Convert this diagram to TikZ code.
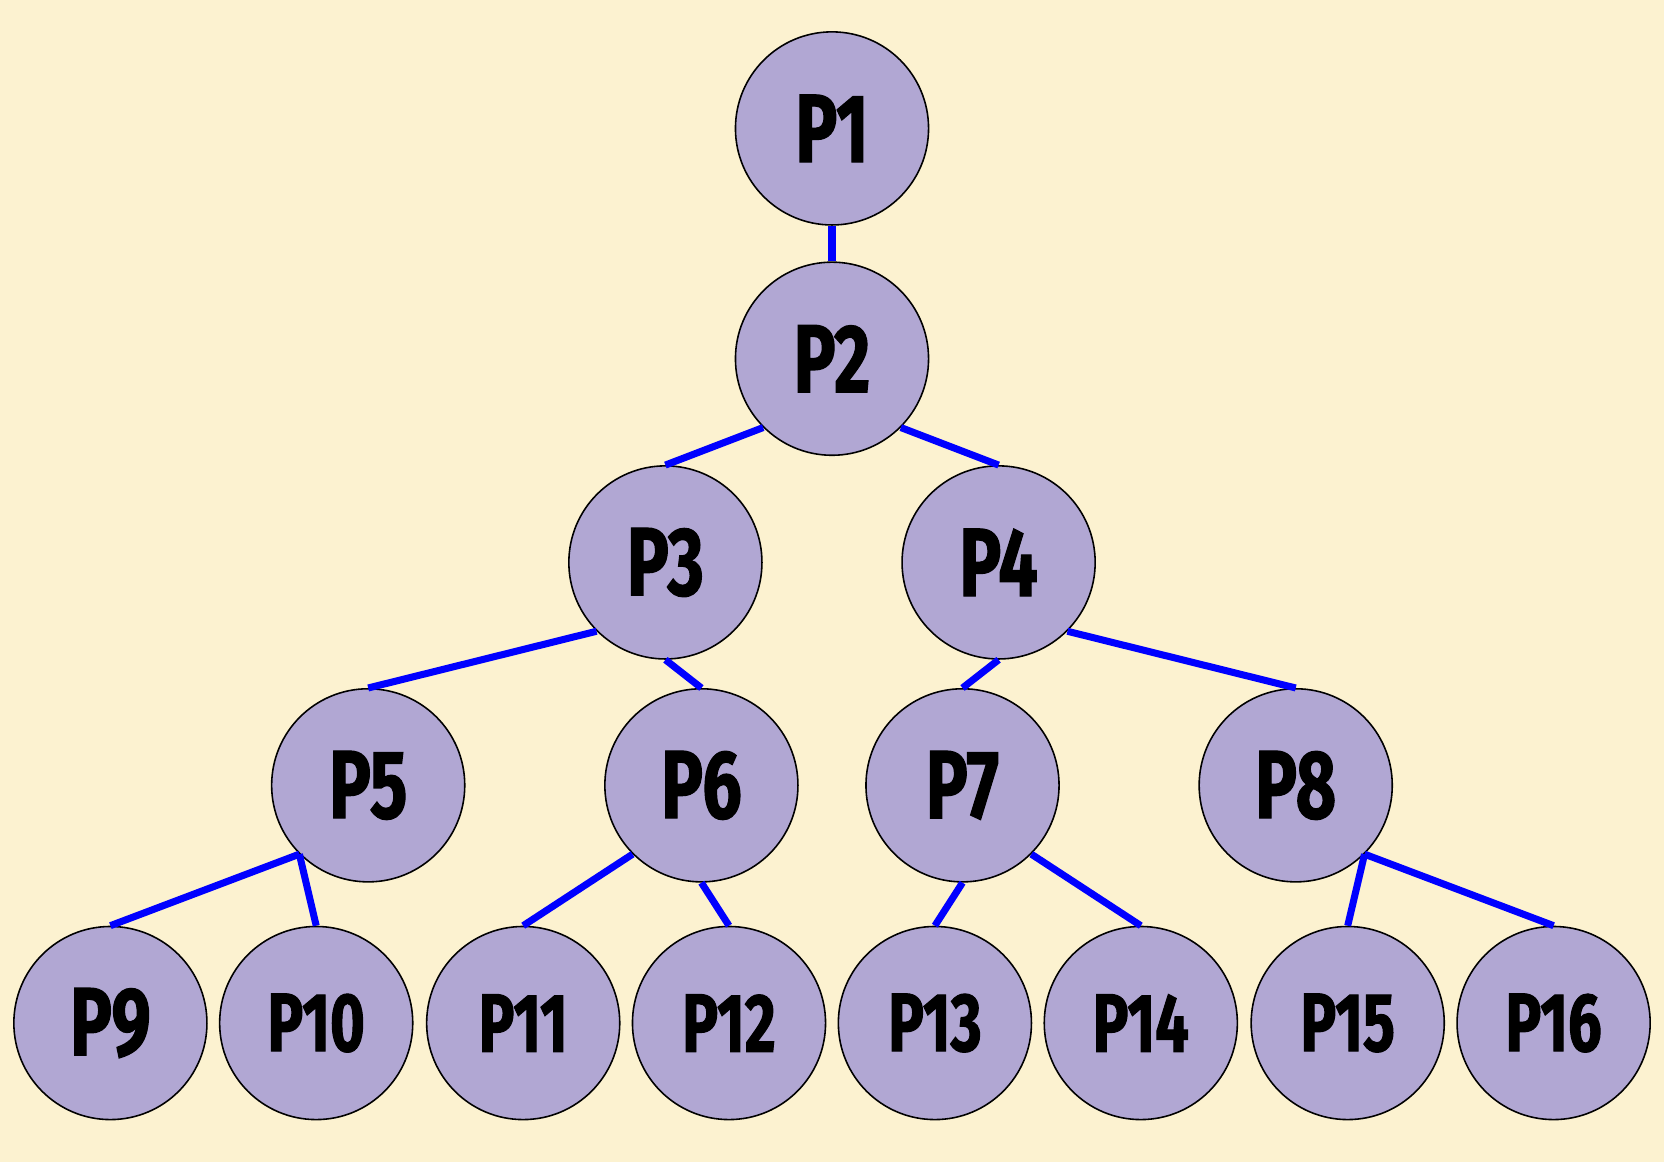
\documentclass[tikz,border=0pt]{standalone}
\usepackage{fontspec}
\usepackage{xcolor}
\newfontfamily\plabelfont[FakeStretch=0.72,FakeBold=1.2]{Fira Sans}

\definecolor{bgcream}{RGB}{252,242,208}
\definecolor{procfill}{RGB}{177,167,211}

\tikzset{
  proc/.style={circle,draw=black,line width=0.45pt,fill=procfill,minimum size=1.93cm,inner sep=0pt,
    font=\plabelfont\bfseries\fontsize{27.6}{29}\selectfont},
  procsmall/.style={proc,font=\plabelfont\bfseries\fontsize{23.6}{25}\selectfont},
  link/.style={draw=blue,line width=2pt}
}

\begin{document}
\begin{tikzpicture}[x=0.01cm,y=-0.01cm]
\fill [bgcream] (0,0) rectangle (1664,1162);
\useasboundingbox (0,0) rectangle (1664,1162);

% top of the tree
\node [proc] (p1) at (832,128.4) {P1};
\node [proc] (p2) at (832,358.7) {P2};
\node [proc] (p3) at (665.4,562.4) {P3};
\node [proc] (p4) at (998.6,562.4) {P4};

% third level
\node [proc] (p5) at (368.2,785.3) {P5};
\node [proc] (p6) at (701.4,785.3) {P6};
\node [proc] (p7) at (962.5,785.3) {P7};
\node [proc] (p8) at (1295.7,785.3) {P8};

% leaves
\node [proc] (p9) at (110.4,1023) {P9};
\node [procsmall] (p10) at (316.2,1023) {P10};
\node [procsmall] (p11) at (523.2,1023) {P11};
\node [procsmall] (p12) at (729,1023) {P12};
\node [procsmall] (p13) at (934.9,1023) {P13};
\node [procsmall] (p14) at (1140.8,1023) {P14};
\node [procsmall] (p15) at (1347.7,1023) {P15};
\node [procsmall] (p16) at (1553.6,1023) {P16};

\draw [link] (p1.south) -- (p2.north);
\draw [link] (p2.south west) -- (p3.north);
\draw [link] (p2.south east) -- (p4.north);
\draw [link] (p3.south west) -- (p5.north);
\draw [link] (p3.south) -- (p6.north);
\draw [link] (p4.south) -- (p7.north);
\draw [link] (p4.south east) -- (p8.north);
\draw [link] (p5.south west) -- (p9.north);
\draw [link] (p5.south west) -- (p10.north);
\draw [link] (p6.south west) -- (p11.north);
\draw [link] (p6.south) -- (p12.north);
\draw [link] (p7.south) -- (p13.north);
\draw [link] (p7.south east) -- (p14.north);
\draw [link] (p8.south east) -- (p15.north);
\draw [link] (p8.south east) -- (p16.north);
\end{tikzpicture}
\end{document}
